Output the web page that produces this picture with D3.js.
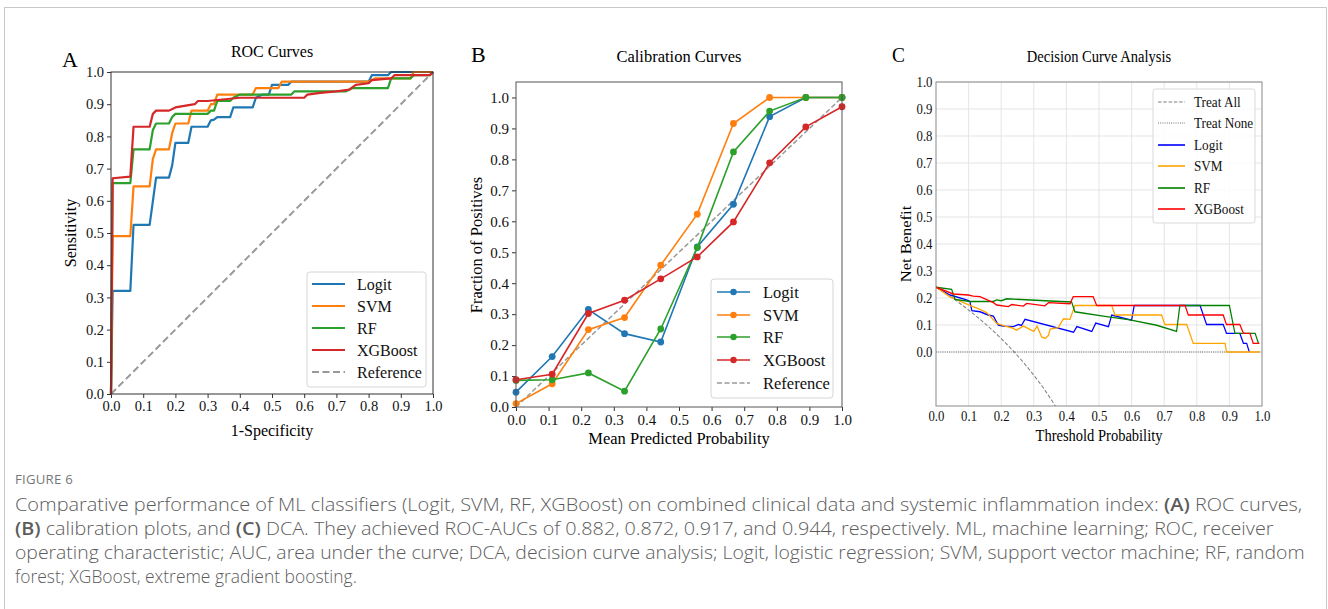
<!DOCTYPE html>
<html>
<head>
<meta charset="utf-8">
<script src="https://cdn.jsdelivr.net/npm/d3@7"></script>
<style>
  body { margin: 0; background: #fff; }
  svg { display: block; }
</style>
</head>
<body>
<svg id="fig" width="1328" height="609"></svg>
<script>

  // ---------- data ----------
  var models = ["Logit", "SVM", "RF", "XGBoost"];
  var tickVals = [0, 0.1, 0.2, 0.3, 0.4, 0.5, 0.6, 0.7, 0.8, 0.9, 1.0];

  // ROC: [1-specificity, sensitivity]
  var rocLogit = [[0,0],[0.005,0.32],[0.06,0.32],[0.07,0.525],[0.12,0.525],[0.14,0.672],[0.18,0.672],[0.19,0.71],[0.20,0.78],[0.24,0.78],[0.25,0.83],[0.30,0.83],[0.31,0.85],[0.32,0.852],[0.33,0.86],[0.37,0.86],[0.38,0.89],[0.44,0.89],[0.45,0.92],[0.47,0.93],[0.49,0.93],[0.50,0.96],[0.55,0.96],[0.56,0.97],[0.80,0.97],[0.81,0.99],[0.86,0.99],[0.87,1.0],[1,1]];
  var rocSVM = [[0,0],[0.005,0.49],[0.06,0.49],[0.07,0.645],[0.12,0.645],[0.13,0.73],[0.14,0.76],[0.18,0.76],[0.19,0.81],[0.20,0.84],[0.24,0.84],[0.25,0.88],[0.30,0.88],[0.31,0.90],[0.32,0.90],[0.33,0.93],[0.44,0.93],[0.45,0.95],[0.52,0.95],[0.53,0.97],[0.80,0.97],[0.82,0.98],[0.93,0.98],[0.94,1.0],[1,1]];
  var rocRF = [[0,0],[0.005,0.655],[0.06,0.655],[0.07,0.76],[0.12,0.76],[0.13,0.82],[0.14,0.84],[0.18,0.84],[0.19,0.86],[0.20,0.87],[0.30,0.87],[0.31,0.88],[0.32,0.88],[0.33,0.91],[0.37,0.91],[0.38,0.92],[0.40,0.93],[0.56,0.93],[0.57,0.94],[0.73,0.94],[0.75,0.95],[0.86,0.95],[0.87,0.98],[0.93,0.98],[0.94,0.99],[0.99,0.99],[1,1]];
  var rocXGB = [[0,0],[0.005,0.67],[0.06,0.675],[0.07,0.83],[0.12,0.83],[0.13,0.87],[0.14,0.88],[0.18,0.88],[0.20,0.89],[0.26,0.90],[0.27,0.91],[0.30,0.91],[0.40,0.92],[0.60,0.92],[0.61,0.93],[0.65,0.935],[0.70,0.94],[0.74,0.945],[0.76,0.96],[0.80,0.965],[0.81,0.975],[0.87,0.98],[0.88,0.99],[0.99,0.99],[1,1]];

  // calibration: mean predicted probability vs fraction of positives
  var calX = [0, 0.111, 0.222, 0.333, 0.444, 0.556, 0.667, 0.778, 0.889, 1.0];
  var calLogit = [0.048, 0.163, 0.315, 0.237, 0.21, 0.517, 0.655, 0.938, 1.0, 1.0];
  var calSVM = [0.011, 0.075, 0.25, 0.289, 0.458, 0.623, 0.916, 1.0, 1.0, 1.0];
  var calRF = [0.086, 0.088, 0.11, 0.051, 0.252, 0.515, 0.824, 0.956, 1.0, 1.0];
  var calXGB = [0.088, 0.106, 0.302, 0.345, 0.414, 0.485, 0.598, 0.789, 0.905, 0.97];

  // decision curves: [threshold, net benefit]
  var dcaTreatAll = [[0,0.24],[0.03,0.217],[0.06,0.192],[0.09,0.165],[0.12,0.136],[0.15,0.106],[0.18,0.073],[0.21,0.038],[0.24,0.0],[0.27,-0.041],[0.30,-0.086],[0.33,-0.134],[0.36,-0.188],[0.38,-0.226]];
  var dcaTreatNone = [[0,0],[1,0]];
  var dcaLogit = [[0,0.24],[0.043,0.211],[0.094,0.193],[0.104,0.187],[0.11,0.153],[0.135,0.149],[0.16,0.137],[0.176,0.133],[0.191,0.10],[0.206,0.096],[0.237,0.094],[0.253,0.102],[0.262,0.098],[0.273,0.121],[0.422,0.073],[0.432,0.094],[0.478,0.076],[0.49,0.107],[0.529,0.094],[0.539,0.137],[0.60,0.118],[0.608,0.172],[0.81,0.172],[0.83,0.102],[0.881,0.102],[0.891,0.069],[0.932,0.069],[0.943,0.032],[0.953,0.032],[0.961,0]];
  var dcaSVM = [[0,0.24],[0.043,0.204],[0.104,0.173],[0.135,0.158],[0.155,0.146],[0.17,0.128],[0.186,0.106],[0.212,0.096],[0.232,0.09],[0.247,0.081],[0.268,0.096],[0.30,0.076],[0.31,0.096],[0.324,0.056],[0.335,0.05],[0.345,0.062],[0.35,0.085],[0.375,0.09],[0.391,0.123],[0.411,0.121],[0.426,0.172],[0.539,0.172],[0.549,0.137],[0.692,0.137],[0.702,0.102],[0.769,0.102],[0.789,0.032],[0.887,0.032],[0.891,0],[0.994,0]];
  var dcaRF = [[0,0.24],[0.048,0.232],[0.058,0.195],[0.104,0.187],[0.176,0.187],[0.186,0.193],[0.20,0.19],[0.217,0.197],[0.35,0.189],[0.416,0.185],[0.426,0.149],[0.513,0.133],[0.595,0.119],[0.677,0.099],[0.738,0.076],[0.748,0.172],[0.90,0.172],[0.917,0.069],[0.979,0.069],[0.989,0.032]];
  var dcaXGB = [[0,0.24],[0.053,0.215],[0.099,0.211],[0.114,0.207],[0.135,0.205],[0.176,0.183],[0.186,0.174],[0.222,0.168],[0.232,0.176],[0.268,0.17],[0.278,0.18],[0.334,0.171],[0.345,0.183],[0.411,0.179],[0.421,0.205],[0.482,0.205],[0.493,0.172],[0.764,0.172],[0.774,0.137],[0.881,0.137],[0.891,0.102],[0.932,0.102],[0.943,0.069],[0.963,0.069],[0.973,0.032],[0.992,0.032]];

  var captionLines = [
    [["Comparative performance of ML classifiers (Logit, SVM, RF, XGBoost) on combined clinical data and systemic inflammation index: ", 0], ["(A)", 1], [" ROC curves,", 0]],
    [["(B)", 1], [" calibration plots, and ", 0], ["(C)", 1], [" DCA. They achieved ROC-AUCs of 0.882, 0.872, 0.917, and 0.944, respectively. ML, machine learning; ROC, receiver", 0]],
    [["operating characteristic; AUC, area under the curve; DCA, decision curve analysis; Logit, logistic regression; SVM, support vector machine; RF, random", 0]],
    [["forest; XGBoost, extreme gradient boosting.", 0]]
  ];

  // ---------- styles ----------
  var serif = "'Liberation Serif', 'Times New Roman', serif";
  var tabColors = ["#1f77b4", "#ff7f0e", "#2ca02c", "#d62728"];
  var dcaColors = ["#0000ff", "#ffa500", "#008000", "#ff0000"];
  var fmt = d3.format(".1f");

  var svg = d3.select("#fig");

  svg.append("rect")
      .attr("x", 4.5).attr("y", 7.5)
      .attr("width", 1322).attr("height", 700)
      .attr("fill", "none").attr("stroke", "#c8c8c8");

  function styleAxis(g, size) {
    g.select(".domain").remove();
    g.attr("font-family", serif).attr("font-size", size);
    g.selectAll(".tick text").attr("fill", "#111");
    g.selectAll(".tick line").attr("stroke", "#333");
  }

  function addLegend(g, box, rows, rowY, x1, x2, tx, size) {
    g.append("rect")
        .attr("x", box[0]).attr("y", box[1])
        .attr("width", box[2]).attr("height", box[3])
        .attr("rx", 3)
        .attr("fill", "#fff").attr("fill-opacity", 0.85)
        .attr("stroke", "#d6d6d6");
    rows.forEach(function(r, i) {
      var y = rowY[i];
      g.append("line")
          .attr("x1", x1).attr("x2", x2).attr("y1", y).attr("y2", y)
          .attr("stroke", r.color).attr("stroke-width", r.width)
          .attr("stroke-dasharray", r.dash || null);
      if (r.marker) {
        g.append("circle").attr("cx", (x1 + x2) / 2).attr("cy", y).attr("r", 3.2).attr("fill", r.color);
      }
      g.append("text")
          .attr("x", tx).attr("y", y).attr("dy", "0.35em")
          .attr("font-family", serif).attr("font-size", size)
          .attr("fill", "#111")
          .text(r.label);
    });
  }

  // ================= A : ROC =================
  var xA = d3.scaleLinear().domain([0, 1]).range([111, 433]);
  var yA = d3.scaleLinear().domain([0, 1]).range([394, 72]);
  var gA = svg.append("g");

  gA.append("g").attr("transform", "translate(0,394)")
      .call(d3.axisBottom(xA).tickValues(tickVals).tickFormat(fmt).tickSize(4).tickPadding(3).tickSizeOuter(0))
      .call(styleAxis, 14.5);
  gA.append("g").attr("transform", "translate(111,0)")
      .call(d3.axisLeft(yA).tickValues(tickVals).tickFormat(fmt).tickSize(4).tickPadding(3).tickSizeOuter(0))
      .call(styleAxis, 14.5);

  var lineA = d3.line().x(d => xA(d[0])).y(d => yA(d[1]));
  gA.append("path").datum([[0, 0], [1, 1]])
      .attr("d", lineA).attr("fill", "none")
      .attr("stroke", "#999").attr("stroke-width", 2).attr("stroke-dasharray", "7,3.5");
  [rocLogit, rocSVM, rocRF, rocXGB].forEach(function(s, i) {
    gA.append("path").datum(s)
        .attr("d", lineA).attr("fill", "none")
        .attr("stroke", tabColors[i]).attr("stroke-width", 2.2)
        .attr("stroke-linejoin", "round");
  });
  gA.append("rect").attr("x", 111).attr("y", 72).attr("width", 322).attr("height", 322)
      .attr("fill", "none").attr("stroke", "#333").attr("stroke-width", 1);

  addLegend(gA, [307, 272, 119, 115],
      models.map((m, i) => ({label: m, color: tabColors[i], width: 2.2}))
        .concat([{label: "Reference", color: "#999", width: 2, dash: "7,3.5"}]),
      [284, 306, 328, 350, 372], 312, 345, 357, 16);

  gA.append("text").attr("x", 272).attr("y", 57).attr("text-anchor", "middle")
      .attr("font-family", serif).attr("font-size", 16).text("ROC Curves");
  gA.append("text").attr("x", 272).attr("y", 436).attr("text-anchor", "middle")
      .attr("font-family", serif).attr("font-size", 16).text("1-Specificity");
  gA.append("text").attr("transform", "translate(76,233) rotate(-90)").attr("text-anchor", "middle")
      .attr("font-family", serif).attr("font-size", 16).text("Sensitivity");
  gA.append("text").attr("x", 62).attr("y", 67)
      .attr("font-family", serif).attr("font-size", 22).text("A");

  // ================= B : calibration =================
  var xB = d3.scaleLinear().domain([0, 1]).range([516, 842]);
  var yB = d3.scaleLinear().domain([0, 1.05]).range([407, 82]);
  var gB = svg.append("g");

  gB.append("g").attr("transform", "translate(0,407)")
      .call(d3.axisBottom(xB).tickValues(tickVals).tickFormat(fmt).tickSize(4).tickPadding(3).tickSizeOuter(0))
      .call(styleAxis, 15);
  gB.append("g").attr("transform", "translate(516,0)")
      .call(d3.axisLeft(yB).tickValues(tickVals).tickFormat(fmt).tickSize(4).tickPadding(3).tickSizeOuter(0))
      .call(styleAxis, 15);

  var lineB = d3.line().x(d => xB(d[0])).y(d => yB(d[1]));
  gB.append("path").datum([[0, 0], [1, 1]])
      .attr("d", lineB).attr("fill", "none")
      .attr("stroke", "#999").attr("stroke-width", 1.5).attr("stroke-dasharray", "5,2.5");
  [calLogit, calSVM, calRF, calXGB].forEach(function(s, i) {
    var pts = calX.map((x, j) => [x, s[j]]);
    gB.append("path").datum(pts)
        .attr("d", lineB).attr("fill", "none")
        .attr("stroke", tabColors[i]).attr("stroke-width", 1.6);
    gB.selectAll(null).data(pts).enter().append("circle")
        .attr("cx", d => xB(d[0])).attr("cy", d => yB(d[1]))
        .attr("r", 3.4).attr("fill", tabColors[i]);
  });
  gB.append("rect").attr("x", 516).attr("y", 82).attr("width", 326).attr("height", 325)
      .attr("fill", "none").attr("stroke", "#555").attr("stroke-width", 1);

  addLegend(gB, [711, 279, 122, 119],
      models.map((m, i) => ({label: m, color: tabColors[i], width: 1.6, marker: true}))
        .concat([{label: "Reference", color: "#999", width: 1.5, dash: "5,2.5"}]),
      [292, 315, 337, 360, 383], 717, 750, 763, 16.5);

  gB.append("text").attr("x", 679).attr("y", 62).attr("text-anchor", "middle")
      .attr("font-family", serif).attr("font-size", 16.5).text("Calibration Curves");
  gB.append("text").attr("x", 679).attr("y", 444).attr("text-anchor", "middle")
      .attr("font-family", serif).attr("font-size", 16.5).text("Mean Predicted Probability");
  gB.append("text").attr("transform", "translate(482,245) rotate(-90)").attr("text-anchor", "middle")
      .attr("font-family", serif).attr("font-size", 16.5).text("Fraction of Positives");
  gB.append("text").attr("x", 471).attr("y", 62)
      .attr("font-family", serif).attr("font-size", 22).text("B");

  // ================= C : decision curves (slightly condensed) =================
  var sq = 0.88;
  var cx = v => (v - 936) / sq;           // page x -> local x
  var gC = svg.append("g").attr("transform", "translate(936,0) scale(" + sq + ",1)");
  var xC = d3.scaleLinear().domain([0, 1]).range([0, 326 / sq]);
  var yC = d3.scaleLinear().domain([-0.2, 1]).range([406, 82]);
  var wC = 326 / sq;

  gC.append("clipPath").attr("id", "clipC")
    .append("rect").attr("x", 0).attr("y", 82).attr("width", wC).attr("height", 324);

  // grid
  gC.selectAll(null).data(tickVals).enter().append("line")
      .attr("x1", d => xC(d)).attr("x2", d => xC(d)).attr("y1", 82).attr("y2", 406)
      .attr("stroke", "#e3e3e3").attr("stroke-width", 1);
  gC.selectAll(null).data(tickVals).enter().append("line")
      .attr("x1", 0).attr("x2", wC).attr("y1", d => yC(d)).attr("y2", d => yC(d))
      .attr("stroke", "#e3e3e3").attr("stroke-width", 1);

  gC.append("g").attr("transform", "translate(0,406)")
      .call(d3.axisBottom(xC).tickValues(tickVals).tickFormat(fmt).tickSize(0).tickPadding(5).tickSizeOuter(0))
      .call(styleAxis, 14.5);
  gC.append("g")
      .call(d3.axisLeft(yC).tickValues(tickVals).tickFormat(fmt).tickSize(0).tickPadding(4).tickSizeOuter(0))
      .call(styleAxis, 14.5);

  var lineC = d3.line().x(d => xC(d[0])).y(d => yC(d[1]));
  var plotC = gC.append("g").attr("clip-path", "url(#clipC)");
  plotC.append("path").datum(dcaTreatAll).attr("d", lineC).attr("fill", "none")
      .attr("stroke", "#808080").attr("stroke-width", 1.1).attr("stroke-dasharray", "4,2");
  plotC.append("path").datum(dcaTreatNone).attr("d", lineC).attr("fill", "none")
      .attr("stroke", "#555").attr("stroke-width", 1).attr("stroke-dasharray", "1,1.5");
  [dcaLogit, dcaSVM, dcaRF, dcaXGB].forEach(function(s, i) {
    plotC.append("path").datum(s).attr("d", lineC).attr("fill", "none")
        .attr("stroke", dcaColors[i]).attr("stroke-width", 1.4);
  });
  gC.append("rect").attr("x", 0).attr("y", 82).attr("width", wC).attr("height", 324)
      .attr("fill", "none").attr("stroke", "#888").attr("stroke-width", 1);

  addLegend(gC, [cx(1153), 89, cx(1255) - cx(1153), 134],
      [{label: "Treat All", color: "#808080", width: 1.1, dash: "4,2"},
       {label: "Treat None", color: "#555", width: 1, dash: "1,1.5"}]
        .concat(models.map((m, i) => ({label: m, color: dcaColors[i], width: 1.6}))),
      [102, 123, 145, 166, 188, 209], cx(1158), cx(1185), cx(1194), 15);

  gC.append("text").attr("x", xC(0.5)).attr("y", 62).attr("text-anchor", "middle")
      .attr("font-family", serif).attr("font-size", 16.5).text("Decision Curve Analysis");
  gC.append("text").attr("x", xC(0.5)).attr("y", 441).attr("text-anchor", "middle")
      .attr("font-family", serif).attr("font-size", 16.5).text("Threshold Probability");
  gC.append("text").attr("transform", "translate(" + cx(911) + ",244) rotate(-90)").attr("text-anchor", "middle")
      .attr("font-family", serif).attr("font-size", 16.5).text("Net Benefit");
  gC.append("text").attr("x", cx(892)).attr("y", 62)
      .attr("font-family", serif).attr("font-size", 22).text("C");

  // ================= caption =================
  var sans = "'Open Sans', 'Noto Sans', sans-serif";
  function fitText(sel, x, y, w) {
    var len = sel.node().getComputedTextLength();
    sel.attr("transform", "translate(" + x + "," + y + ") scale(" + (w / len) + ",1)");
  }
  var fig = svg.append("text").attr("font-family", sans).attr("font-size", 12.5)
      .attr("fill", "#777").attr("letter-spacing", 0.2).text("FIGURE 6");
  fitText(fig, 15, 484, 58);

  var lineWidths = [1288, 1260, 1291, 342];
  var lineBase = [511, 535, 559, 583];
  captionLines.forEach(function(parts, i) {
    var t = svg.append("text").attr("font-family", sans).attr("font-size", 18.5)
        .attr("font-weight", 300).attr("fill", "#5c5c5c");
    parts.forEach(function(p) {
      t.append("tspan").attr("font-weight", p[1] ? 600 : 300).text(p[0]);
    });
    fitText(t, 15, lineBase[i], lineWidths[i]);
  });

</script>
</body>
</html>
